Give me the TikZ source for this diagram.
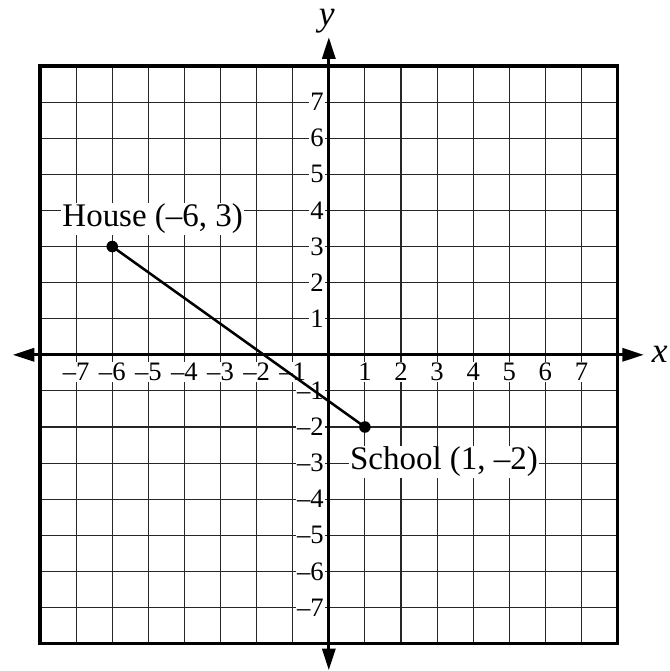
\documentclass[tikz,border=0pt]{standalone}
\usepackage{fontspec}
\setmainfont{Liberation Serif}
\usetikzlibrary{arrows.meta}
\begin{document}
\begin{tikzpicture}[
  gridline/.style={line width=0.9pt, black!85},
  frame/.style={line width=2.6pt},
  axis/.style={line width=2.6pt, {Triangle[length=6mm,width=3.6mm]}-{Triangle[length=6mm,width=3.6mm]}},
  segment/.style={line width=2pt},
  ticklab/.style={fill=white, inner sep=1pt, font=\fontsize{21}{25}\selectfont},
  ptlab/.style={fill=white, inner sep=1pt, font=\fontsize{26}{30}\selectfont, anchor=base},
  axlab/.style={font=\fontsize{28}{32}\selectfont\itshape},
  dot/.style={circle, fill=black, inner sep=0pt, minimum size=3.2mm},
]
\useasboundingbox (-9.11,-8.76) rectangle (9.45,9.83);
% grid
\draw[gridline] (-8,-8) grid (8,8);
% x tick labels
\foreach \v in {1,...,7} {
  \node[ticklab] (txp\v) at (\v,-0.48) {\v};
  \node[ticklab] (txm\v) at (-\v,-0.48) {–\v};
}
% y tick labels
\foreach \v in {1,...,7} {
  \node[ticklab, anchor=east] (typ\v) at (-0.1,\v) {\v};
  \node[ticklab, anchor=east] (tym\v) at (-0.1,-\v) {–\v};
}
% point labels
\node[ptlab] (houselab) at (-4.88,3.55) {House (–6, 3)};
\node[ptlab] (schoollab) at (3.19,-3.19) {School (1, –2)};
% frame
\draw[frame] (-8,-8) rectangle (8,8);
% axes
\coordinate (xl) at (-8.76,0);
\coordinate (xr) at (8.73,0);
\coordinate (yb) at (0,-8.74);
\coordinate (yt) at (0,8.8);
\draw[axis] (xl) -- (xr);
\draw[axis] (yb) -- (yt);
\node[axlab] (xlab) at (9.17,0) {x};
\node[axlab, anchor=base] (ylab) at (-0.06,9.11) {y};
% points and segment
\node[dot] (house) at (-6,3) {};
\node[dot] (school) at (1,-2) {};
\draw[segment] (house.center) -- (school.center);
\end{tikzpicture}
\end{document}
